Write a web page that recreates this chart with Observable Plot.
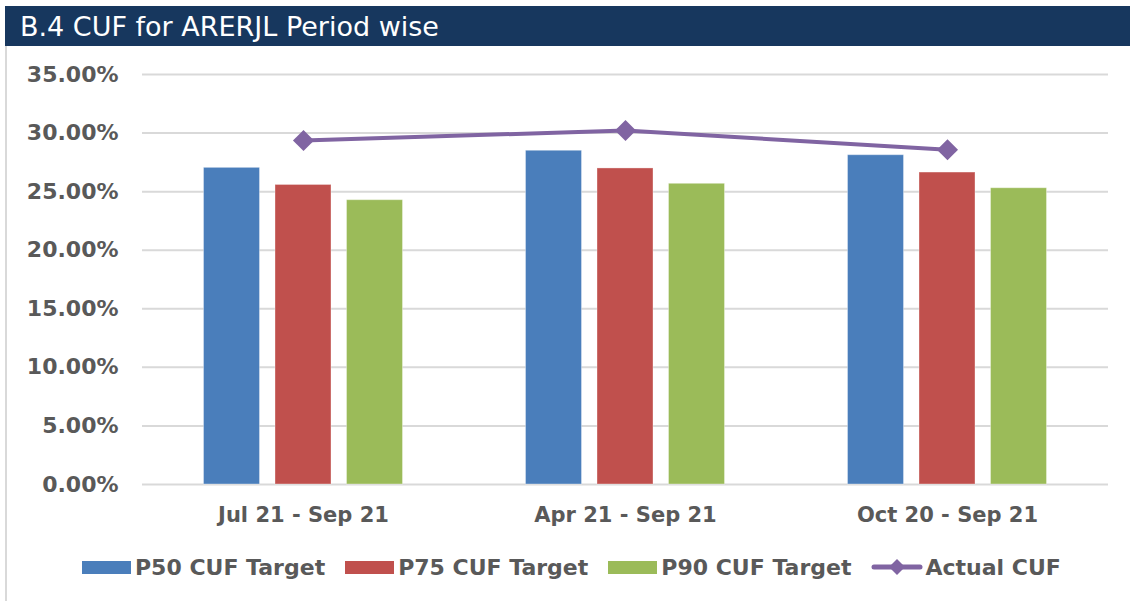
<!DOCTYPE html>
<html><head><meta charset="utf-8">
<script src="https://cdn.jsdelivr.net/npm/d3@7"></script>
<script src="https://cdn.jsdelivr.net/npm/@observablehq/plot@0.6"></script>
<style>
body{margin:0;background:#fff;font-family:"DejaVu Sans",sans-serif;}
#wrap{position:relative;width:1130px;height:601px;overflow:hidden;background:#fff;}
#title{position:absolute;left:5px;top:6px;width:1125px;height:40px;background:#17375e;color:#fff;font-size:27px;line-height:42px;padding-left:15px;box-sizing:border-box;white-space:nowrap;}
#border{position:absolute;left:5px;top:46px;width:2px;height:555px;background:#d9d9d9;}
#chart{position:absolute;left:0;top:46px;}
#legend{position:absolute;left:82px;top:555px;display:flex;align-items:center;height:24px;font-weight:bold;font-size:22px;color:#595959;white-space:nowrap;}
.item{display:flex;align-items:center;margin-right:20px;}
.sw{width:49px;height:13px;margin-right:4px;}
</style>
</head><body>
<div id="wrap">
  <div id="title">B.4 CUF for ARERJL Period wise</div>
  <div id="border"></div>
  <div id="chart"></div>
  <div id="legend"></div>
</div>
<script>
// Data
const categories = ["Jul 21 - Sep 21", "Apr 21 - Sep 21", "Oct 20 - Sep 21"];
const p50Target = [0.2703, 0.2849, 0.2811];
const p75Target = [0.2557, 0.2698, 0.2663];
const p90Target = [0.2427, 0.2567, 0.2529];
const actualCUF = [0.2937, 0.3022, 0.2857];
const yTicks = [0, 0.05, 0.10, 0.15, 0.20, 0.25, 0.30, 0.35];
const seriesNames = ["P50 CUF Target", "P75 CUF Target", "P90 CUF Target", "Actual CUF"];
const colors = ["#4a7ebb", "#c0504d", "#9bbb59", "#8064a2"];

const rows = vals => categories.map((c, i) => ({category: c, value: vals[i]}));
const barOpts = (i, dx) => ({x: "category", y: "value", fill: colors[i], stroke: "#ffffff", strokeOpacity: 0.35, strokeWidth: 1, dx});

const chart = Plot.plot({
  width: 1130,
  height: 510,
  marginLeft: 142,
  marginRight: 22,
  marginTop: 28,
  marginBottom: 72,
  style: {fontFamily: "DejaVu Sans, sans-serif", background: "transparent", overflow: "visible"},
  x: {domain: categories, paddingInner: 0.826, paddingOuter: 0.413, label: null},
  y: {domain: [0, 0.35], label: null},
  marks: [
    Plot.ruleY(yTicks, {stroke: "#d9d9d9", strokeWidth: 2}),
    Plot.barY(rows(p50Target), barOpts(0, -71.5)),
    Plot.barY(rows(p75Target), barOpts(1, 0)),
    Plot.barY(rows(p90Target), barOpts(2, 71.5)),
    Plot.line(rows(actualCUF), {x: "category", y: "value", stroke: colors[3], strokeWidth: 4}),
    Plot.dot(rows(actualCUF), {x: "category", y: "value", symbol: "diamond2", r: 9.5, fill: colors[3], stroke: "none"}),
    Plot.axisY({ticks: yTicks, tickFormat: d3.format(".2%"), tickSize: 0, tickPadding: 24, fontSize: 22, fontWeight: "bold", fill: "#595959", label: null}),
    Plot.axisX({tickSize: 0, tickPadding: 23, fontSize: 21, fontWeight: "bold", fill: "#595959", label: null})
  ]
});
document.getElementById("chart").appendChild(chart);

// Legend
const legend = document.getElementById("legend");
seriesNames.forEach((name, i) => {
  const item = document.createElement("div");
  item.className = "item";
  if (i < 3) {
    item.innerHTML = `<div class="sw" style="background:${colors[i]}"></div><span>${name}</span>`;
  } else {
    item.innerHTML = `<svg width="52" height="20" style="margin-right:2px"><line x1="3" y1="10" x2="49" y2="10" stroke="${colors[i]}" stroke-width="5" stroke-linecap="round"/><path d="M26,2 L34,10 L26,18 L18,10 Z" fill="${colors[i]}"/></svg><span>${name}</span>`;
  }
  legend.appendChild(item);
});
</script>
</body></html>
